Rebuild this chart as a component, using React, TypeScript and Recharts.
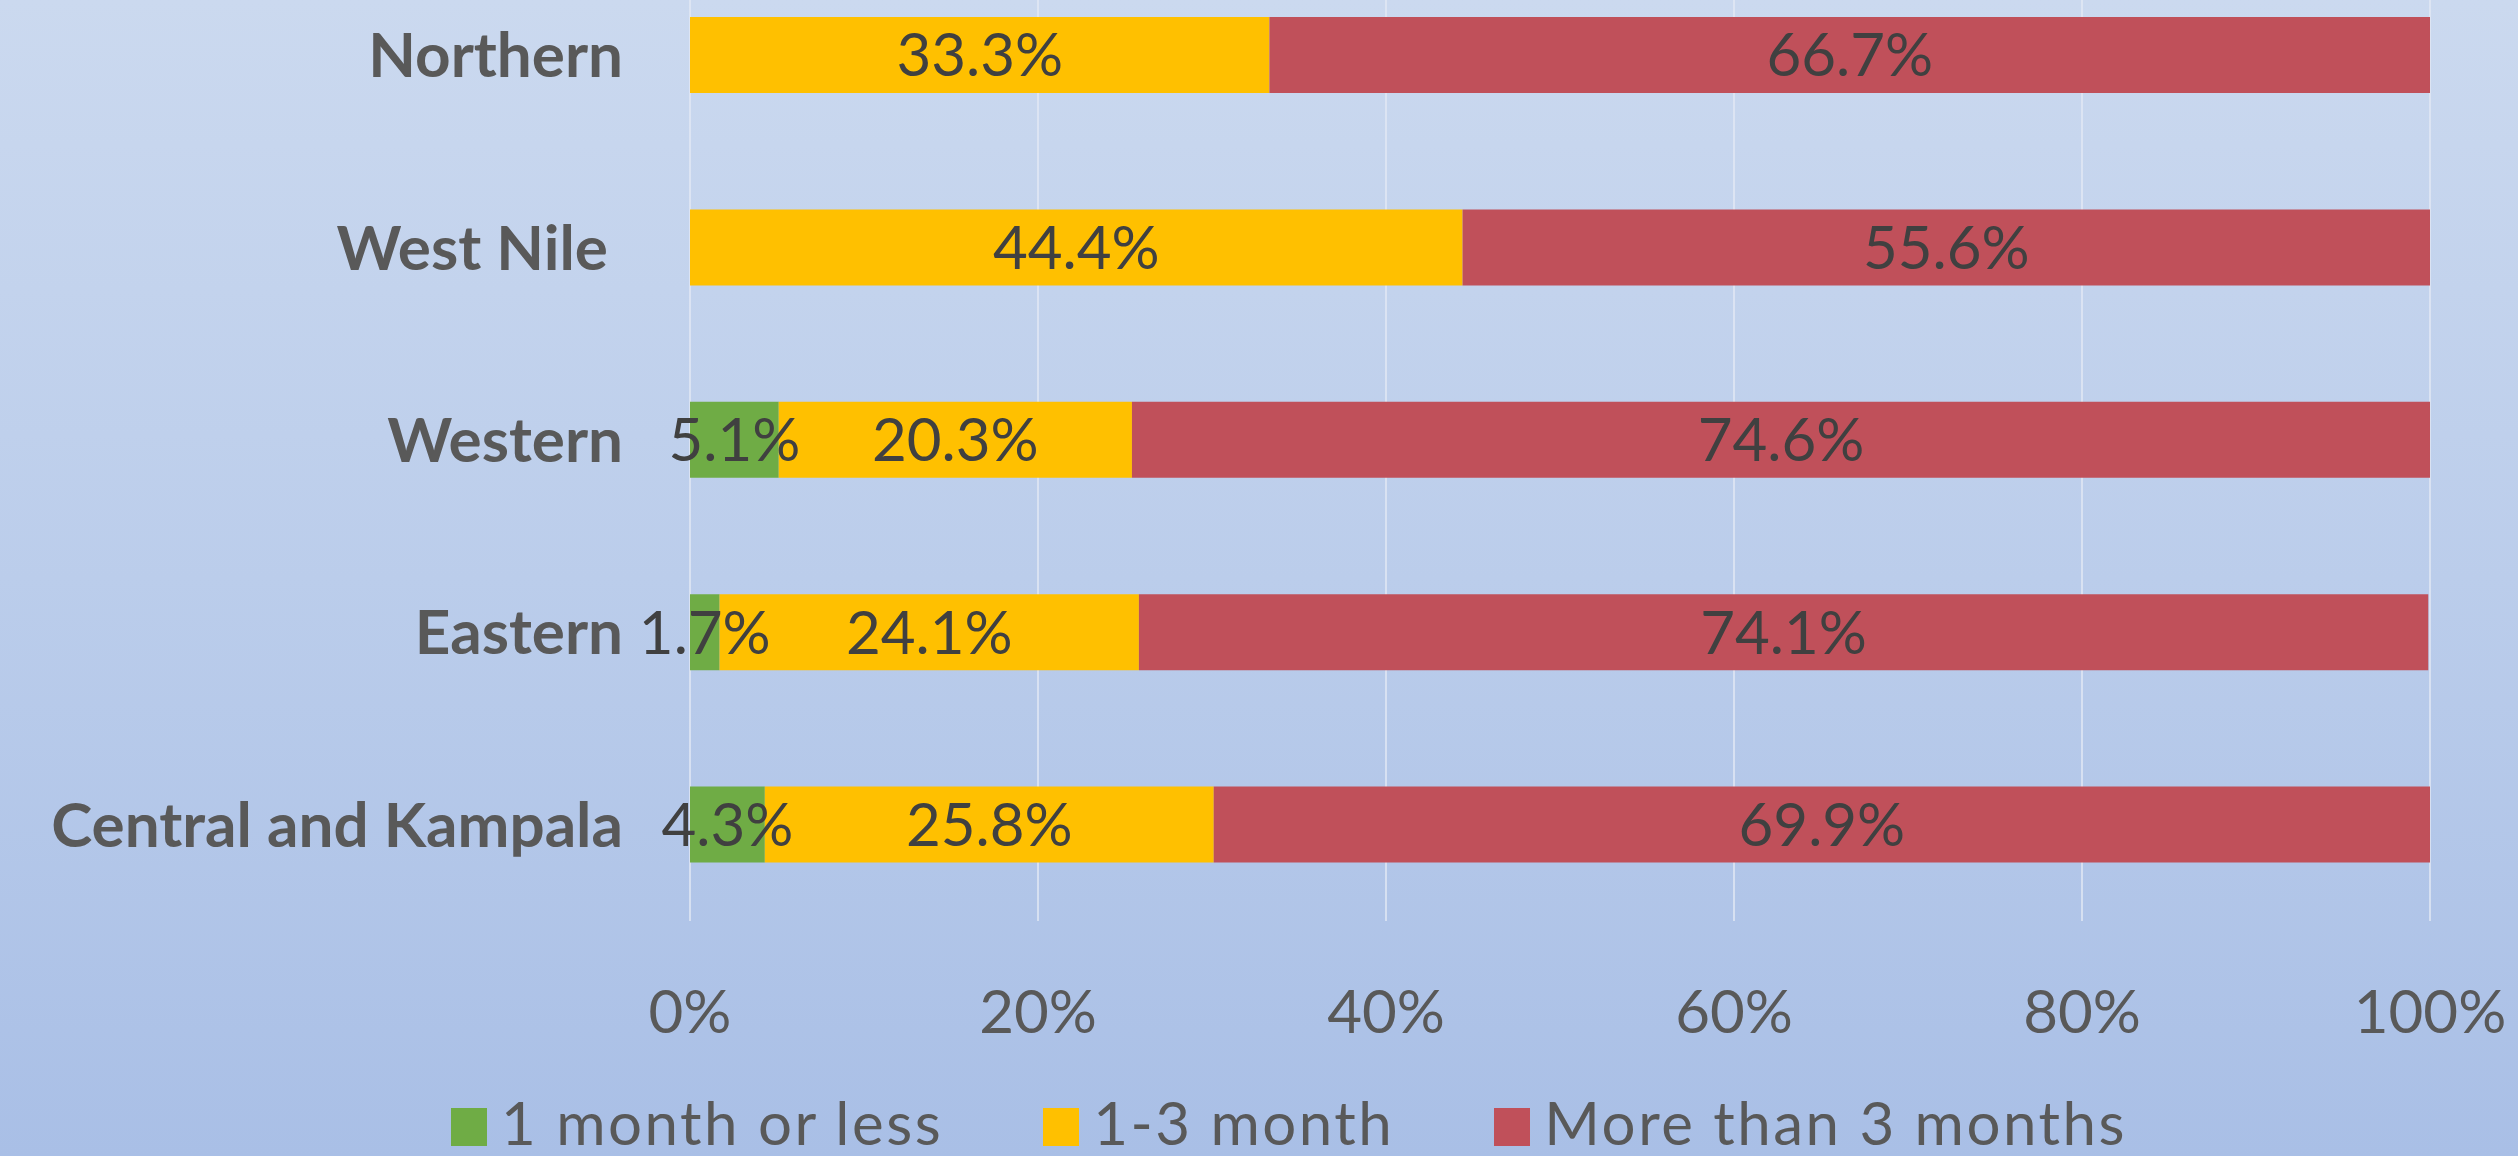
import React from 'react';
import { BarChart, Bar, XAxis, YAxis, CartesianGrid, Legend, LabelList } from 'recharts';

const categories = ['Northern', 'West Nile\u00A0', 'Western', 'Eastern', 'Central and Kampala'];
const oneMonthOrLess = [0, 0, 5.1, 1.7, 4.3];
const oneToThreeMonth = [33.3, 44.4, 20.3, 24.1, 25.8];
const moreThanThree = [66.7, 55.6, 74.6, 74.1, 69.9];
const xTicks = [0, 20, 40, 60, 80, 100];

const seriesNames = ['1 month or less', '1-3 month', 'More than 3 months'];
const seriesColors = ['#6FAC45', '#FFC000', '#C0505A'];

const data = categories.map((c, i) => ({
  name: c,
  a: oneMonthOrLess[i],
  b: oneToThreeMonth[i],
  c: moreThanThree[i],
}));

const FONT = 'Lato, "Open Sans", sans-serif';

const fmt = (v: any) => (v ? `${Number(v).toFixed(1)}%` : '');

const renderLegend = (props: any) => {
  const { payload } = props;
  return (
    <div
      style={{
        display: 'flex',
        justifyContent: 'center',
        width: 2518,
        paddingLeft: 60,
        boxSizing: 'border-box',
        fontFamily: FONT,
      }}
    >
      {(payload || []).map((p: any, i: number) => (
        <div key={i} style={{ display: 'flex', alignItems: 'flex-start', marginLeft: i ? 100 : 0 }}>
          <span
            style={{
              display: 'inline-block',
              width: 36,
              height: 38,
              background: p.color,
              marginTop: 10,
              marginRight: 14,
            }}
          />
          <span
            style={{
              fontSize: 60,
              lineHeight: '48px',
              letterSpacing: 2.5,
              color: '#595959',
              whiteSpace: 'nowrap',
            }}
          >
            {p.value}
          </span>
        </div>
      ))}
    </div>
  );
};

export default function App() {
  return (
    <div
      style={{
        position: 'absolute',
        left: 0,
        top: 0,
        width: 2518,
        height: 1156,
        overflow: 'hidden',
        background: 'linear-gradient(180deg, #cbd9ef 0%, #bbcdeb 50%, #a9bfe6 100%)',
        fontFamily: FONT,
      }}
    >
      <div style={{ position: 'absolute', left: 0, top: -60 }}>
        <BarChart
          width={2518}
          height={1216}
          data={data}
          layout="vertical"
          barSize={76}
          margin={{ top: 19, right: 88, left: 0, bottom: 135 }}
        >
          <CartesianGrid horizontal={false} stroke="#e3e9f5" strokeWidth={1.5} />
          <XAxis
            type="number"
            domain={[0, 100]}
            ticks={xTicks}
            tickFormatter={(v: number) => `${v}%`}
            axisLine={false}
            tickLine={false}
            height={100}
            tickMargin={63}
            tick={{ fontSize: 60, fill: '#595959', fontFamily: FONT }}
            allowDataOverflow
          />
          <YAxis
            type="category"
            dataKey="name"
            width={690}
            axisLine={false}
            tickLine={false}
            tickMargin={61}
            interval={0}
            tick={{ fontSize: 62, fill: '#595959', fontWeight: 700, fontFamily: FONT }}
          />
          <Legend
            layout="horizontal"
            verticalAlign="middle"
            align="center"
            wrapperStyle={{ top: 1158, left: 0, width: 2518 }}
            content={renderLegend}
          />
          <Bar dataKey="a" name={seriesNames[0]} stackId="s" fill={seriesColors[0]} isAnimationActive={false}>
            <LabelList dataKey="a" position="center" formatter={fmt} fill="#404040" fontSize={60} fontFamily={FONT} />
          </Bar>
          <Bar dataKey="b" name={seriesNames[1]} stackId="s" fill={seriesColors[1]} isAnimationActive={false}>
            <LabelList dataKey="b" position="center" formatter={fmt} fill="#404040" fontSize={60} fontFamily={FONT} />
          </Bar>
          <Bar dataKey="c" name={seriesNames[2]} stackId="s" fill={seriesColors[2]} isAnimationActive={false}>
            <LabelList dataKey="c" position="center" formatter={fmt} fill="#404040" fontSize={60} fontFamily={FONT} />
          </Bar>
        </BarChart>
      </div>
    </div>
  );
}
